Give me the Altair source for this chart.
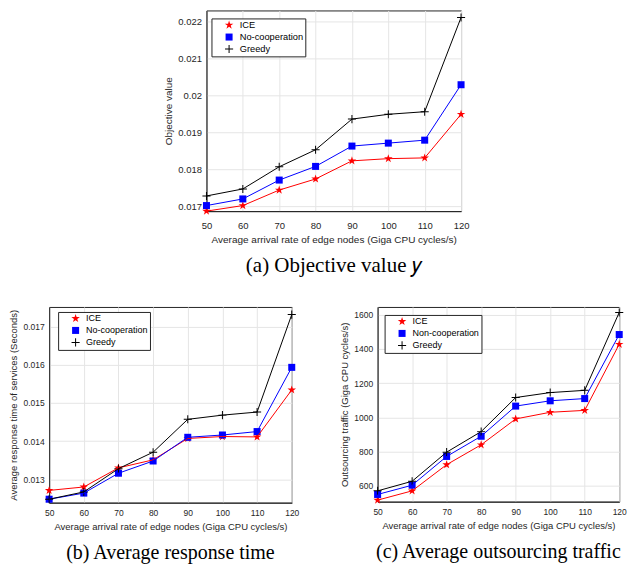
import altair as alt
import pandas as pd

x_rates = [50, 60, 70, 80, 90, 100, 110, 120]

# (a) Objective value
a_ice = [0.01687, 0.01702, 0.01744, 0.01774, 0.01823, 0.01829, 0.01831, 0.01949]
a_noncoop = [0.01702, 0.01720, 0.01771, 0.01808, 0.01863, 0.01871, 0.01879, 0.02029]
a_greedy = [0.01728, 0.01747, 0.01807, 0.01853, 0.01936, 0.01949, 0.01956, 0.02211]

# (b) Average response time
b_ice = [0.01271, 0.01280, 0.01330, 0.01351, 0.01407, 0.01412, 0.01411, 0.01534]
b_noncoop = [0.01248, 0.01264, 0.01316, 0.01348, 0.01410, 0.01416, 0.01425, 0.01593]
b_greedy = [0.01248, 0.01267, 0.01328, 0.01371, 0.01457, 0.01468, 0.01476, 0.01731]

# (c) Average outsourcing traffic
c_ice = [517, 571, 724, 840, 991, 1030, 1041, 1427]
c_noncoop = [550, 604, 772, 890, 1066, 1097, 1110, 1484]
c_greedy = [571, 627, 797, 917, 1116, 1145, 1158, 1613]

series_ab = ["ICE", "No-cooperation", "Greedy"]
series_c = ["ICE", "Non-cooperation", "Greedy"]

colors = ["#ff0000", "#0000ff", "#000000"]
star_path = ("M0,-1L0.225,-0.309L0.951,-0.309L0.363,0.118L0.588,0.809L0,0.382"
             "L-0.588,0.809L-0.363,0.118L-0.951,-0.309L-0.225,-0.309Z")
square_path = "M-0.78,-0.78L0.78,-0.78L0.78,0.78L-0.78,0.78Z"
plus_path = ("M-0.9,-0.11L-0.11,-0.11L-0.11,-0.9L0.11,-0.9L0.11,-0.11L0.9,-0.11L0.9,0.11"
             "L0.11,0.11L0.11,0.9L-0.11,0.9L-0.11,0.11L-0.9,0.11Z")
shapes = [star_path, square_path, plus_path]

AXIS_COLOR = "#262626"
GRID_COLOR = "#e5e5e5"
SANS = "Liberation Sans"
SERIF = "Liberation Serif"


def make_df(names, vals):
    rows = []
    for name, v in zip(names, vals):
        for x, y in zip(x_rates, v):
            rows.append({"x": x, "y": y, "series": name})
    return pd.DataFrame(rows)


def panel(df, names, ydomain, yticks, yfmt, ytitle, caption, w, h,
          tick_fs, title_fs, legend_fs, cap_fs, cap_offset, lx, ly, xlab_pad, xtitle_pad):
    xenc = alt.X("x:Q", scale=alt.Scale(domain=[50, 120], nice=False, zero=False),
                 axis=alt.Axis(values=x_rates, title="Average arrival rate of edge nodes (Giga CPU cycles/s)",
                               labelFontSize=tick_fs, titleFontSize=title_fs,
                               labelPadding=xlab_pad, titlePadding=xtitle_pad, ticks=False,
                               labelFlush=False, labelOverlap=False,
                               labelFont=SANS, titleFont=SANS, titleFontWeight="normal",
                               labelColor=AXIS_COLOR, titleColor=AXIS_COLOR,
                               domainColor=AXIS_COLOR, gridColor=GRID_COLOR))
    yenc = alt.Y("y:Q", scale=alt.Scale(domain=ydomain, nice=False, zero=False),
                 axis=alt.Axis(values=yticks, format=yfmt, title=ytitle,
                               labelFontSize=tick_fs, titleFontSize=title_fs,
                               labelPadding=5, titlePadding=4, ticks=False,
                               labelFlush=False, labelOverlap=False,
                               labelFont=SANS, titleFont=SANS, titleFontWeight="normal",
                               labelColor=AXIS_COLOR, titleColor=AXIS_COLOR,
                               domainColor=AXIS_COLOR, gridColor=GRID_COLOR))
    cscale = alt.Scale(domain=names, range=colors)
    sscale = alt.Scale(domain=names, range=shapes)
    legend = alt.Legend(
        title=None, orient="none", legendX=lx, legendY=ly,
        labelFont=SANS, labelFontSize=legend_fs, labelColor="#000000",
        strokeColor=AXIS_COLOR, fillColor="white", padding=2,
        rowPadding=2, symbolSize=81, symbolStrokeWidth=0,
        symbolOffset=11, labelOffset=6,
    )
    base = alt.Chart(df)
    line = base.mark_line(strokeWidth=1).encode(
        x=xenc, y=yenc,
        color=alt.Color("series:N", scale=cscale, legend=legend),
    )
    pts = base.mark_point(filled=True, size=81, opacity=1).encode(
        x=xenc, y=yenc,
        color=alt.Color("series:N", scale=cscale, legend=legend),
        shape=alt.Shape("series:N", scale=sscale, legend=legend),
    )
    return alt.layer(pts, line).properties(
        width=w, height=h,
        title=alt.TitleParams(caption, orient="bottom", font=SERIF, fontSize=cap_fs,
                              fontWeight="normal", color="#000000", anchor="middle",
                              offset=cap_offset),
    )


pa = panel(make_df(series_ab, [a_ice, a_noncoop, a_greedy]), series_ab,
           [0.01687, 0.0223], [0.017, 0.018, 0.019, 0.020, 0.021, 0.022], ".3~f",
           "Objective value", "(a)  Objective value \U0001D466", 255, 201,
           9.5, 10, 9.3, 21, 10, 5, 8, 9, 5)
pb = panel(make_df(series_ab, [b_ice, b_noncoop, b_greedy]), series_ab,
           [0.01239, 0.01751], [0.013, 0.014, 0.015, 0.016, 0.017], ".3~f",
           "Average response time of services (Seconds)", "(b)  Average response time",
           243, 196, 8.5, 9.5, 9, 20, 12, 9, 5, 6, 4)
pc = panel(make_df(series_c, [c_ice, c_noncoop, c_greedy]), series_c,
           [508, 1645], [600, 800, 1000, 1200, 1400, 1600], "d",
           "Outsourcing traffic (Giga CPU cycles/s)", "(c)  Average outsourcing traffic",
           242, 195, 8.5, 9.5, 9, 20, 12, 7, 8, 6, 4)

RES = dict(color="independent", shape="independent")
bottom = alt.hconcat(pb, pc, spacing=39).resolve_scale(**RES)
chart = alt.vconcat(pa, bottom, spacing=30, center=True).resolve_scale(**RES).properties(
    padding={"left": 0, "top": 1, "right": 0, "bottom": 0}
).configure_view(stroke=AXIS_COLOR, strokeWidth=1).configure_axis(grid=True)

chart.save("out.html", embed_options={"renderer": "svg", "actions": False})
